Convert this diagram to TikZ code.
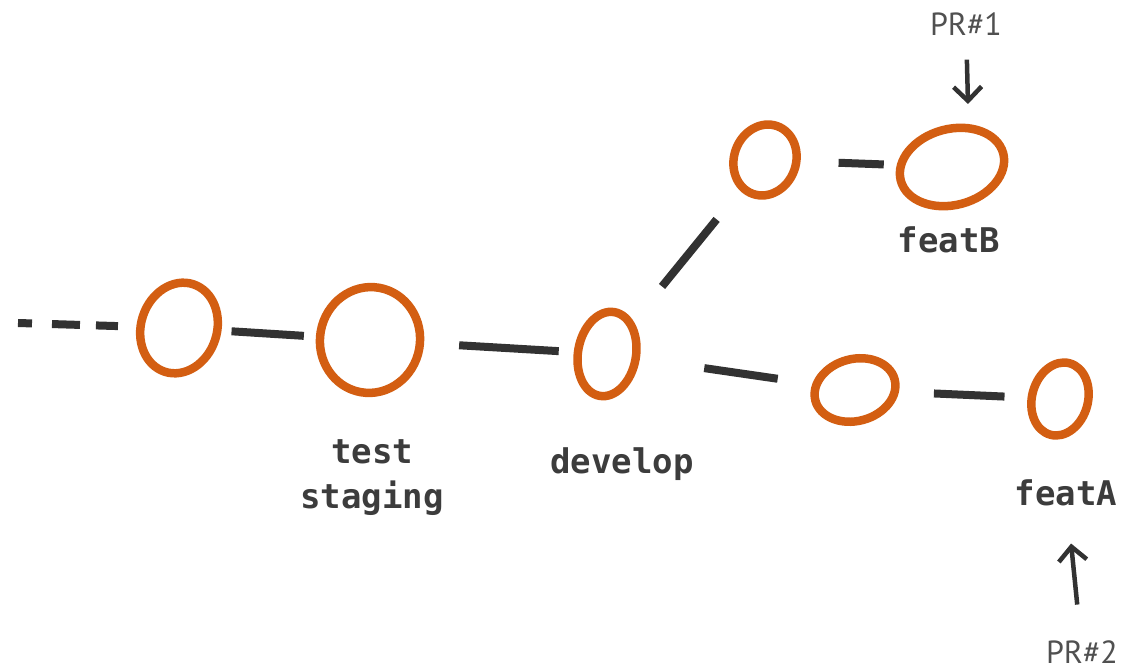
\documentclass[tikz,border=0pt]{standalone}
\usepackage{fontspec}
\setmonofont{DejaVu Sans Mono}
\newfontfamily\prfont{PT Sans}
\usetikzlibrary{positioning,shapes.geometric,arrows.meta}
\definecolor{gitorange}{RGB}{211,94,18}
\definecolor{inkgray}{RGB}{50,50,50}
\definecolor{labelgray}{RGB}{60,60,60}

\begin{document}
\begin{tikzpicture}[x=1pt,y=-1pt,
  commit/.style={ellipse,draw=gitorange,line width=8.5pt,inner sep=0pt},
  link/.style={draw=inkgray,line width=8pt},
  branch/.style={font=\ttfamily\bfseries\fontsize{34}{45}\selectfont,text=labelgray,align=center},
  pr/.style={font=\prfont\fontsize{32}{36}\selectfont,text=labelgray!90,inner sep=2pt},
  prarrow/.style={draw=inkgray,line width=4.5pt,-{Straight Barb[length=14pt,width=28pt]}}]
  \useasboundingbox (0,0) rectangle (1146,671);
  \node[commit,minimum width=76,minimum height=92,rotate=-18] (c1) at (179,328) {};
  \node[commit,minimum width=100,minimum height=106,rotate=-10] (c2) at (370,340) {};
  \node[commit,minimum width=58,minimum height=85,rotate=-10] (c3) at (607,354) {};
  \node[commit,minimum width=62,minimum height=72,rotate=-20] (c4) at (765,160) {};
  \node[commit,minimum width=106,minimum height=76,rotate=15] (c5) at (952,167) {};
  \node[commit,minimum width=82,minimum height=62,rotate=15] (c6) at (855,390) {};
  \node[commit,minimum width=56,minimum height=74,rotate=-15] (c7) at (1060,399) {};
  \coordinate (tail) at (18,323);
  \coordinate (pr1tip) at (968,104);
  \draw[link,dash pattern=on 14pt off 20pt on 28pt off 16pt on 22pt off 20pt,shorten >=12pt] (tail) -- (c1);
  \draw[link,shorten <=10pt,shorten >=12pt] (c1) -- (c2);
  \draw[link,shorten <=35pt,shorten >=15pt] (c2) -- (c3);
  \draw[link,shorten <=45pt,shorten >=37pt] (c3) -- (c4);
  \draw[link,shorten <=38pt,shorten >=13pt] (c4) -- (c5);
  \draw[link,shorten <=65pt,shorten >=35pt] (c3) -- (c6);
  \draw[link,shorten <=35pt,shorten >=23pt] (c6) -- (c7);
  \node[branch] (staging) at (372,478) {test\\staging};
  \node[branch] (develop) at (622,464) {develop};
  \node[branch] (featB) at (949,240) {featB};
  \node[branch] (featA) at (1066,493) {featA};
  \node[pr] (pr1) at (966,24) {PR\#1};
  \node[pr] (pr2) at (1082,652) {PR\#2};
  \draw[prarrow,shorten <=22pt] (pr1) -- (pr1tip);
  \draw[prarrow,shorten <=34pt,shorten >=34pt] (pr2) -- (featA);
\end{tikzpicture}
\end{document}
